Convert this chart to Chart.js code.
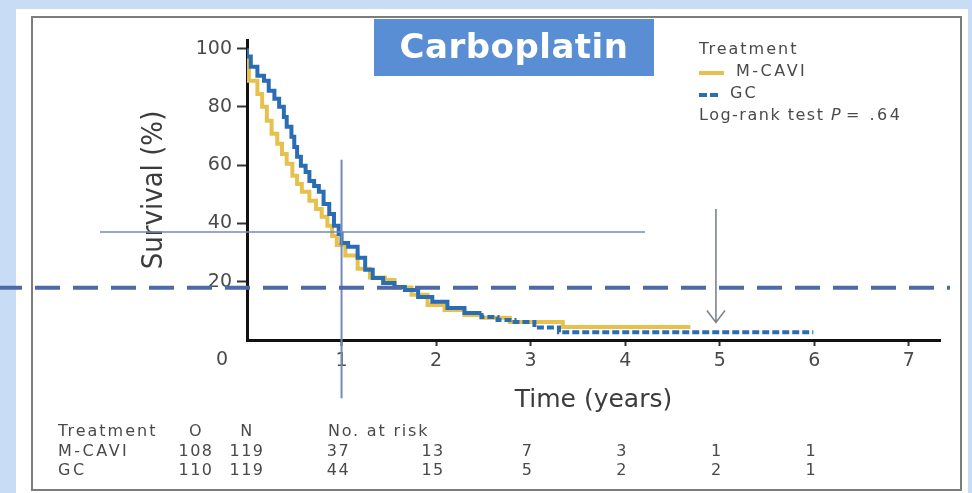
<!DOCTYPE html>
<html>
<head>
<meta charset="utf-8">
<title>Carboplatin - survival</title>
<script src="https://cdn.jsdelivr.net/npm/chart.js@4.4.1/dist/chart.umd.min.js"></script>
<style>
  html, body { margin: 0; padding: 0; background: #c8dcf6; }
  #wrap { position: relative; width: 972px; height: 493px; }
</style>
</head>
<body>
<div id="wrap"><canvas id="kmChart" width="972" height="493"></canvas></div>
<script>
// Kaplan-Meier curves (time in years, survival in %)
const mcaviTime = [0, 0.02, 0.11, 0.16, 0.21, 0.26, 0.32, 0.37, 0.42, 0.48, 0.53, 0.58, 0.66, 0.73, 0.79, 0.85, 0.90, 0.95, 1.04, 1.17, 1.30, 1.46, 1.56, 1.74, 1.91, 2.09, 2.30, 2.48, 2.78, 3.34, 3.97, 4.69];
const mcaviSurv = [100, 95.5, 89, 84.5, 80.1, 75.3, 70.8, 67.4, 63.9, 60.5, 56.4, 53.6, 50.9, 47.8, 45, 42.3, 39.2, 35.7, 32.6, 29, 24.5, 21.5, 20.6, 18, 15.5, 12, 10.3, 8.6, 7.6, 6.2, 4.5, 4.5];

const gcTime = [0, 0.04, 0.11, 0.18, 0.23, 0.29, 0.34, 0.39, 0.42, 0.47, 0.50, 0.53, 0.57, 0.62, 0.66, 0.71, 0.76, 0.81, 0.87, 0.92, 0.97, 1.00, 1.07, 1.17, 1.25, 1.33, 1.44, 1.56, 1.67, 1.81, 1.96, 2.12, 2.30, 2.48, 2.65, 2.83, 3.04, 3.30, 3.97, 5.99];
const gcSurv = [100, 97.3, 93.8, 90.7, 89, 85.6, 82.8, 80.1, 76.6, 73.2, 69.8, 66.3, 62.9, 59.8, 57.7, 54.6, 52.9, 50.9, 46.7, 43.3, 39.2, 36.4, 33.3, 32, 28.2, 24.1, 21.3, 19.6, 18.2, 17.2, 14.8, 13.1, 11, 9.3, 7.9, 6.9, 6.2, 4.3, 2.7, 2.7];

// axis ticks
const xTickValues = [1, 2, 3, 4, 5, 6, 7];
const yTickValues = [20, 40, 60, 80, 100];

// number-at-risk table
const riskYears = [1, 2, 3, 4, 5, 6];
const riskMcavi = [37, 13, 7, 3, 1, 1];
const riskGc = [44, 15, 5, 2, 2, 1];
const tableRows = [
    { name: 'M-CAVI', o: 108, n: 119, risk: riskMcavi },
    { name: 'GC', o: 110, n: 119, risk: riskGc }
];

// annotations drawn over the plot (data units)
const medianLine = { y: 37.1, xTo: 4.21 };
const oneYearLine = { x: 1, yFrom: 61.9, yTo: -20 };
const dashedLine = { y: 17.9 };
const fiveYearArrow = { x: 4.96, yFrom: 45, yTo: 6 };

const colors = {
    mcavi: '#e6c24c',
    gc: '#2b6db2',
    text: '#4a4a4a',
    guide: '#7488bb',
    dashed: '#4c6aa8',
    arrow: '#7d8494',
    titleBox: '#5a8ed4'
};

const FONT = "'DejaVu Sans', 'Noto Sans', sans-serif";

function toPoints(xs, ys) {
    return xs.map((x, i) => ({ x: x, y: ys[i] }));
}

function drawText(ctx, str, x, y, size, opts) {
    opts = opts || {};
    ctx.save();
    ctx.font = (opts.weight || '') + ' ' + size + 'px ' + FONT;
    ctx.fillStyle = opts.color || colors.text;
    ctx.textAlign = opts.align || 'left';
    ctx.textBaseline = 'middle';
    ctx.letterSpacing = (opts.spacing !== undefined ? opts.spacing : 1.5) + 'px';
    ctx.fillText(str, x, y);
    ctx.restore();
}

// slide background + frame
const backgroundPlugin = {
    id: 'slideBackground',
    beforeDraw(chart) {
        const ctx = chart.ctx;
        ctx.save();
        ctx.fillStyle = '#c8dcf6';
        ctx.fillRect(0, 0, chart.width, chart.height);
        ctx.fillStyle = '#ffffff';
        ctx.fillRect(16, 9, 952, 484);
        ctx.strokeStyle = '#7c7c7c';
        ctx.lineWidth = 2;
        ctx.strokeRect(32, 17, 929, 473);
        ctx.restore();
    }
};

// guide lines, arrow, title box, legend and risk table
const overlayPlugin = {
    id: 'overlay',
    afterDraw(chart) {
        const ctx = chart.ctx;
        const xs = chart.scales.x;
        const ys = chart.scales.y;

        ctx.save();
        // horizontal guide at median level
        ctx.strokeStyle = colors.guide;
        ctx.lineWidth = 1.5;
        ctx.beginPath();
        ctx.moveTo(100, ys.getPixelForValue(medianLine.y));
        ctx.lineTo(xs.getPixelForValue(medianLine.xTo), ys.getPixelForValue(medianLine.y));
        ctx.stroke();

        // vertical guide at 1 year
        ctx.lineWidth = 2;
        ctx.beginPath();
        ctx.moveTo(xs.getPixelForValue(oneYearLine.x), ys.getPixelForValue(oneYearLine.yFrom));
        ctx.lineTo(xs.getPixelForValue(oneYearLine.x), ys.getPixelForValue(oneYearLine.yTo));
        ctx.stroke();

        // dashed line across the slide
        ctx.strokeStyle = colors.dashed;
        ctx.lineWidth = 4;
        ctx.setLineDash([25, 13]);
        ctx.beginPath();
        ctx.moveTo(-3, ys.getPixelForValue(dashedLine.y));
        ctx.lineTo(950, ys.getPixelForValue(dashedLine.y));
        ctx.stroke();
        ctx.setLineDash([]);

        // arrow at 5 years
        const ax = xs.getPixelForValue(fiveYearArrow.x);
        const ay1 = ys.getPixelForValue(fiveYearArrow.yFrom);
        const ay2 = ys.getPixelForValue(fiveYearArrow.yTo);
        ctx.strokeStyle = colors.arrow;
        ctx.lineWidth = 1.6;
        ctx.beginPath();
        ctx.moveTo(ax, ay1);
        ctx.lineTo(ax, ay2);
        ctx.moveTo(ax - 9, ay2 - 12);
        ctx.lineTo(ax, ay2);
        ctx.lineTo(ax + 9, ay2 - 12);
        ctx.stroke();

        // title box
        ctx.fillStyle = colors.titleBox;
        ctx.fillRect(374, 19, 280, 57);
        drawText(ctx, 'Carboplatin', 514, 49, 34, { weight: 'bold', color: '#ffffff', align: 'center', spacing: 0.5 });

        // legend
        drawText(ctx, 'Treatment', 699, 50, 16, { spacing: 2 });
        ctx.lineWidth = 4;
        ctx.strokeStyle = colors.mcavi;
        ctx.beginPath();
        ctx.moveTo(699, 73);
        ctx.lineTo(724, 73);
        ctx.stroke();
        drawText(ctx, 'M-CAVI', 736, 72, 16, { spacing: 2.5 });
        ctx.strokeStyle = colors.gc;
        ctx.setLineDash([8, 3]);
        ctx.beginPath();
        ctx.moveTo(699, 95);
        ctx.lineTo(721, 95);
        ctx.stroke();
        ctx.setLineDash([]);
        drawText(ctx, 'GC', 730, 94, 16, { spacing: 2 });
        drawText(ctx, 'Log-rank test ', 699, 116, 16, {});
        ctx.font = '16px ' + FONT;
        ctx.letterSpacing = '1.5px';
        const w = ctx.measureText('Log-rank test ').width;
        ctx.letterSpacing = '0px';
        drawText(ctx, 'P', 699 + w, 116, 16, { weight: 'italic' });
        drawText(ctx, '= .64', 699 + w + 15, 116, 16, { spacing: 2.5 });

        // origin label
        drawText(ctx, '0', xs.getPixelForValue(0) - 25, 360, 19, { align: 'center', spacing: 0 });

        // number-at-risk table
        const rowY = [432, 452, 471];
        drawText(ctx, 'Treatment', 58, rowY[0], 16, { spacing: 2 });
        drawText(ctx, 'O', 196, rowY[0], 16, { align: 'center' });
        drawText(ctx, 'N', 247, rowY[0], 16, { align: 'center' });
        drawText(ctx, 'No. at risk', 328, rowY[0], 16, { spacing: 1.8 });
        tableRows.forEach((row, i) => {
            const y = rowY[i + 1];
            drawText(ctx, row.name, 58, y, 16, { spacing: 2.5 });
            drawText(ctx, String(row.o), 196, y, 16, { align: 'center' });
            drawText(ctx, String(row.n), 247, y, 16, { align: 'center' });
            row.risk.forEach((v, j) => {
                drawText(ctx, String(v), xs.getPixelForValue(riskYears[j]) - 3, y, 16, { align: 'center' });
            });
        });
        ctx.restore();
    }
};

new Chart(document.getElementById('kmChart').getContext('2d'), {
    type: 'line',
    data: {
        datasets: [
            {
                label: 'M-CAVI',
                data: toPoints(mcaviTime, mcaviSurv),
                borderColor: colors.mcavi,
                borderWidth: 4,
                stepped: 'after',
                pointRadius: 0,
                order: 1
            },
            {
                label: 'GC',
                data: toPoints(gcTime, gcSurv),
                borderColor: colors.gc,
                borderWidth: 4,
                stepped: 'after',
                pointRadius: 0,
                order: 0,
                segment: {
                    borderDash: ctx => ctx.p0.parsed.x > 2.4 ? [7, 3] : undefined
                }
            }
        ]
    },
    options: {
        responsive: false,
        animation: false,
        events: [],
        layout: { padding: { left: 133, right: 32, top: 40, bottom: 73 } },
        scales: {
            x: {
                type: 'linear',
                min: 0,
                max: 7.33,
                afterFit: s => { s.height = 80; },
                afterBuildTicks: s => { s.ticks = xTickValues.map(v => ({ value: v })); },
                ticks: {
                    padding: 4,
                    color: colors.text,
                    font: { family: FONT, size: 19 }
                },
                grid: { drawOnChartArea: false, tickLength: 6, tickWidth: 2, tickColor: '#333' },
                border: { color: '#111', width: 3 },
                title: {
                    display: true,
                    text: 'Time (years)',
                    color: '#3c3c3c',
                    font: { family: FONT, size: 25 },
                    padding: { top: 0, bottom: 5 }
                }
            },
            y: {
                min: 0,
                max: 103,
                afterFit: s => { s.width = 114; },
                afterBuildTicks: s => { s.ticks = yTickValues.map(v => ({ value: v })); },
                ticks: {
                    padding: 5,
                    color: colors.text,
                    font: { family: FONT, size: 19 }
                },
                grid: { drawOnChartArea: false, tickLength: 10, tickWidth: 2, tickColor: '#333' },
                border: { color: '#111', width: 3 },
                title: {
                    display: true,
                    text: 'Survival (%)',
                    color: '#3c3c3c',
                    font: { family: "'Liberation Sans Narrow', 'DejaVu Sans Condensed', sans-serif", size: 29 },
                    padding: { top: 4, bottom: 0 }
                }
            }
        },
        plugins: {
            legend: { display: false },
            tooltip: { enabled: false }
        }
    },
    plugins: [backgroundPlugin, overlayPlugin]
});
</script>
</body>
</html>
